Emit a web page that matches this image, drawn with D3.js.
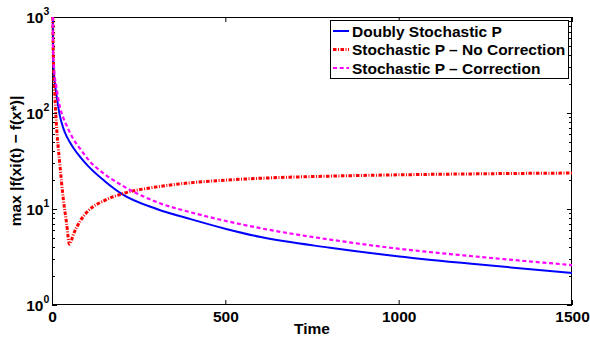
<!DOCTYPE html>
<html>
<head>
<meta charset="utf-8">
<script src="https://cdn.jsdelivr.net/npm/d3@7"></script>
<style>
  body { margin: 0; background: #fff; }
  svg { display: block; font-family: "Liberation Sans", Arial, sans-serif; font-weight: bold; }
</style>
</head>
<body>
<svg id="chart" width="590" height="339"></svg>
<script>
// values
var times = [0, 1, 2, 5, 10, 20, 30, 40, 48, 60, 80, 100, 150, 200, 300, 400, 500, 600, 800, 1000, 1200, 1500]
var doublyStochastic = [1000, 400, 300, 215, 160, 95, 70, 57, 50.5, 43, 34.5, 28.5, 19.5, 14.3, 10.0, 7.8, 6.2, 5.1, 3.95, 3.2, 2.7, 2.15]
var noCorrection = [1000, 500, 330, 180, 80, 30, 13, 7, 4.3, 5.5, 7.6, 9.4, 12.3, 14.4, 17.0, 18.8, 20.0, 20.9, 22.0, 22.7, 23.2, 23.7]
var withCorrection = [1000, 420, 340, 250, 190, 118, 90, 74, 64, 53, 42, 33.5, 23, 17.6, 11.8, 9.2, 7.5, 6.3, 4.8, 3.85, 3.25, 2.6]

var seriesNames = ["Doubly Stochastic P", "Stochastic P \u2013 No Correction", "Stochastic P \u2013 Correction"]
var xTicks = [0, 500, 1000, 1500]
var yDecades = [1, 10, 100, 1000]

var styles = [
    { color: "#0000ff", width: 2, dash: null },
    { color: "#ff0000", width: 3, dash: "3.5,1.5,1,1.5" },
    { color: "#ff00ff", width: 2.2, dash: "4,2.7" }
]

var plotLeft = 52, plotRight = 572, plotTop = 17, plotBottom = 305
var svg = d3.select("#chart")

var x = d3.scaleLinear().domain([0, 1500]).range([plotLeft, plotRight])
var y = d3.scaleLog().domain([1, 1000]).range([plotBottom, plotTop])

svg.append("defs").append("clipPath").attr("id", "plotClip")
    .append("rect").attr("x", plotLeft - 2).attr("y", plotTop - 1)
    .attr("width", plotRight - plotLeft + 2).attr("height", plotBottom - plotTop + 1)

// axes: ticks pointing inward on all four sides
var xAxisBottom = d3.axisBottom(x).tickValues(xTicks).tickFormat(d3.format("d"))
    .tickSizeInner(-5).tickSizeOuter(0).tickPadding(6)
var xAxisTop = d3.axisTop(x).tickValues(xTicks).tickSizeInner(-5).tickSizeOuter(0).tickFormat("")

var gxb = svg.append("g").attr("transform", "translate(0," + plotBottom + ")").call(xAxisBottom)
svg.append("g").attr("transform", "translate(0," + plotTop + ")").call(xAxisTop)
gxb.selectAll("text").style("font-size", "15.5px").style("font-weight", "bold")
    .style("font-family", "'Liberation Sans', Arial, sans-serif").attr("fill", "#000")
svg.selectAll(".tick line").attr("stroke", "#000")

var yTicks = y.ticks()
function tickLen(d) { return yDecades.indexOf(d) >= 0 ? 5 : 3 }

var gyl = svg.append("g")
gyl.selectAll("line.l").data(yTicks).enter().append("line").classed("l", true)
    .attr("x1", plotLeft).attr("x2", d => plotLeft + tickLen(d))
    .attr("y1", d => Math.round(y(d)) + 0.5).attr("y2", d => Math.round(y(d)) + 0.5)
    .attr("stroke", "#000")
gyl.selectAll("line.r").data(yTicks).enter().append("line").classed("r", true)
    .attr("x1", plotRight).attr("x2", d => plotRight - tickLen(d))
    .attr("y1", d => Math.round(y(d)) + 0.5).attr("y2", d => Math.round(y(d)) + 0.5)
    .attr("stroke", "#000")

svg.selectAll(".domain").remove()

// frame (under the lines, the curves run along the left edge)
svg.append("rect")
    .attr("x", plotLeft + 0.5).attr("y", plotTop + 0.5)
    .attr("width", plotRight - plotLeft - 1).attr("height", plotBottom - plotTop - 1)
    .attr("fill", "none").attr("stroke", "#000")

// y decade labels 10^n
var yLab = svg.append("g").selectAll("g").data(yDecades).enter().append("g")
yLab.append("text")
    .attr("x", 43.5).attr("y", d => y(d) + 6.3)
    .attr("text-anchor", "end").style("font-size", "15.5px").text("10")
yLab.append("text")
    .attr("x", 43.5).attr("y", d => y(d) - 2)
    .style("font-size", "10.5px").text(d => Math.round(Math.log10(d)))

// lines
var allSeries = [doublyStochastic, noCorrection, withCorrection]
var line = d3.line().x((d, i) => x(times[i]) + 0.8).y(d => y(d)).curve(d3.curveMonotoneX)

svg.append("g").attr("clip-path", "url(#plotClip)")
    .selectAll("path").data(allSeries).enter().append("path")
    .attr("d", line)
    .attr("fill", "none")
    .attr("stroke", (d, i) => styles[i].color)
    .attr("stroke-width", (d, i) => styles[i].width)
    .attr("stroke-dasharray", (d, i) => styles[i].dash)

// axis titles
svg.append("text").attr("x", (plotLeft + plotRight) / 2).attr("y", 334)
    .attr("text-anchor", "middle").style("font-size", "15.5px").text("Time")
svg.append("text").attr("transform", "translate(21," + (plotTop + plotBottom) / 2 + ") rotate(-90)")
    .attr("text-anchor", "middle").style("font-size", "15.5px").text("max |f(xi(t) \u2212 f(x*)|")

// legend
var legend = svg.append("g")
legend.append("rect").attr("x", 330.5).attr("y", 20.5).attr("width", 238).attr("height", 58)
    .attr("fill", "#fff").attr("stroke", "#000")
var rows = [31, 49.5, 68]
var entry = legend.selectAll("g").data(seriesNames).enter().append("g")
entry.append("line")
    .attr("x1", 333).attr("x2", 349)
    .attr("y1", (d, i) => rows[i]).attr("y2", (d, i) => rows[i])
    .attr("stroke", (d, i) => styles[i].color)
    .attr("stroke-width", (d, i) => styles[i].width)
    .attr("stroke-dasharray", (d, i) => styles[i].dash)
entry.append("text")
    .attr("x", 352).attr("y", (d, i) => rows[i] + 5.5)
    .style("font-size", "15.5px").text(d => d)
</script>
</body>
</html>
